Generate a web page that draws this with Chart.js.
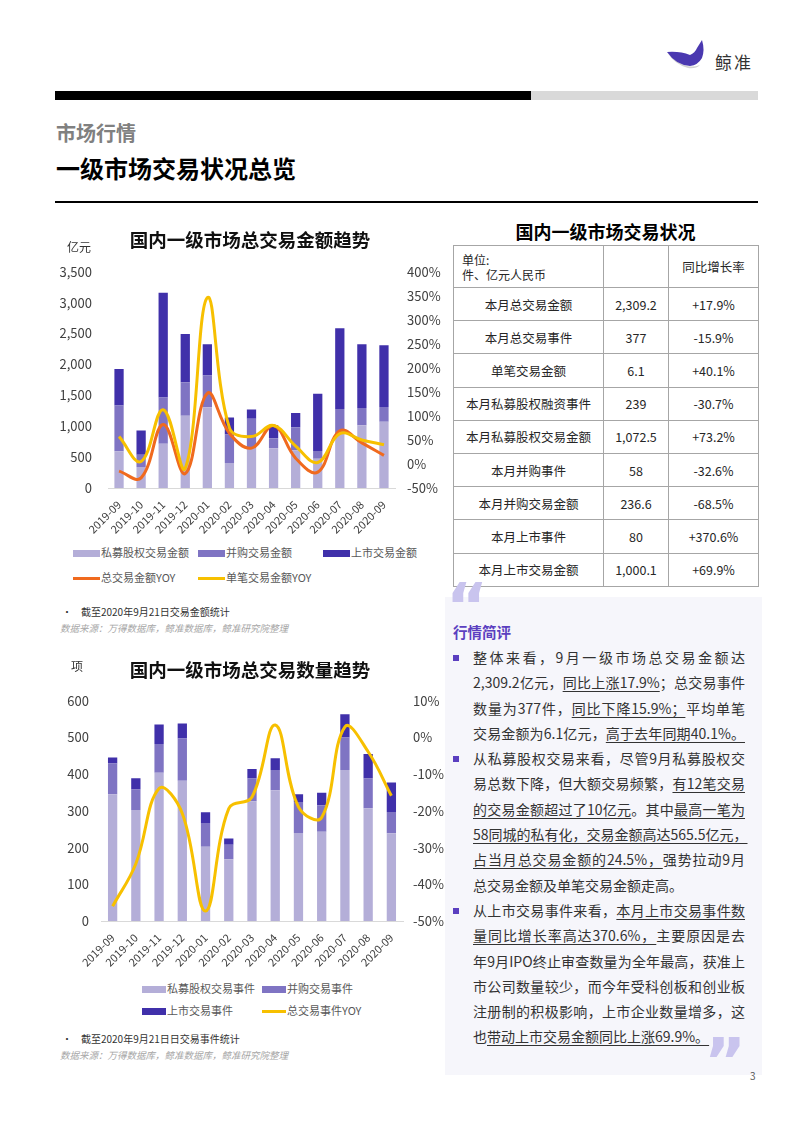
<!DOCTYPE html>
<html>
<head>
<meta charset="utf-8">
<script src="https://cdn.jsdelivr.net/npm/chart.js@4.4.0/dist/chart.umd.min.js"></script>
<style>
  body { margin:0; width:800px; height:1130px; position:relative; background:#fff; overflow:hidden;
         font-family:"Noto Sans CJK SC","Noto Sans",sans-serif; color:#333; }
  .abs { position:absolute; }
  .legend-item { position:absolute; font-size:11px; color:#595959; line-height:14px; white-space:nowrap; }
  .legend-item i { display:inline-block; vertical-align:middle; margin-right:1px; margin-top:-2px; }
  #tbl { position:absolute; left:453px; top:245px; width:305px; border-collapse:collapse; font-size:12.5px; color:#262626; table-layout:fixed; }
  #tbl td { border:1px solid #a6a6a6; text-align:center; padding:0; }
  #tbl tr { height:33.2px; }
  #comment { position:absolute; left:473px; top:645px; width:272px; font-size:14px; line-height:25.3px; color:#333; }
  #comment div { white-space:nowrap; text-align:justify; text-align-last:justify; }
  #comment div.last { text-align-last:left; }
  #comment u { text-decoration-thickness:1px; text-underline-offset:3px; }
  .sq { position:absolute; left:453px; width:6px; height:6px; background:#5b3fc0; }
  .note { position:absolute; font-size:10px; color:#333; white-space:nowrap; }
  .src { position:absolute; font-size:9.5px; color:#a6a6a6; font-style:italic; white-space:nowrap; }
</style>
</head>
<body>

<!-- header -->
<svg class="abs" style="left:662px;top:38px" width="46" height="34" viewBox="0 0 46 34">
  <path d="M5 14 Q12 26 26 30 Q34 31 38 27 Q30 30 22 27 Q12 23 5 14 Z" fill="#d2d2d2"/>
  <path d="M5 14 Q18 13 28 17 Q33 15 35 10 L40 2 Q43 12 40 20 Q36 27 28 28 Q14 27 5 14 Z" fill="#4a38b0"/>
</svg>
<div class="abs" style="left:715px;top:49px;font-size:17px;letter-spacing:2px;color:#333">鲸准</div>
<div class="abs" style="left:55px;top:91px;width:476px;height:9px;background:#000"></div>
<div class="abs" style="left:531px;top:91px;width:227px;height:9px;background:#d9d9d9"></div>
<div class="abs" style="left:56px;top:121px;font-size:20px;line-height:24px;font-weight:bold;color:#808080">市场行情</div>
<div class="abs" style="left:56px;top:154px;font-size:24px;line-height:28px;font-weight:bold;color:#000">一级市场交易状况总览</div>
<div class="abs" style="left:55px;top:201px;width:703px;height:2px;background:#000"></div>

<!-- chart 1 -->
<div class="abs" style="left:55px;top:222px;width:390px;height:318px"><canvas id="amountChart"></canvas></div>
<div class="abs" style="left:67px;top:238px;font-size:12px;color:#333">亿元</div>
<div id="legend1"></div>
<div class="note" style="left:62px;top:604px">•&nbsp;&nbsp;&nbsp;&nbsp;截至2020年9月21日交易金额统计</div>
<div class="src" style="left:60px;top:621px">数据来源：万得数据库，鲸准数据库，鲸准研究院整理</div>

<!-- chart 2 -->
<div class="abs" style="left:55px;top:650px;width:390px;height:322px"><canvas id="countChart"></canvas></div>
<div class="abs" style="left:71px;top:657px;font-size:12px;color:#333">项</div>
<div id="legend2"></div>
<div class="note" style="left:62px;top:1031px">•&nbsp;&nbsp;&nbsp;&nbsp;截至2020年9月21日日交易事件统计</div>
<div class="src" style="left:60px;top:1048px">数据来源：万得数据库，鲸准数据库，鲸准研究院整理</div>

<!-- table -->
<div class="abs" style="left:453px;top:219px;width:305px;text-align:center;font-size:18px;line-height:24px;font-weight:bold;color:#000">国内一级市场交易状况</div>
<table id="tbl">
  <colgroup><col style="width:150px"><col style="width:65px"><col style="width:90px"></colgroup>
  <tbody id="tblBody"></tbody>
</table>

<!-- comment box -->
<div class="abs" style="left:445px;top:597px;width:317px;height:478px;background:#f6f6fb"></div>
<div class="abs" style="left:446px;top:572px;font-size:64px;line-height:70px;font-weight:bold;color:#c9c4ee;font-family:'DejaVu Sans'">“</div>
<div class="abs" style="left:704px;top:1027px;font-size:64px;line-height:70px;font-weight:bold;color:#c9c4ee;font-family:'DejaVu Sans'">”</div>
<div class="abs" style="left:453px;top:623px;font-size:14.5px;line-height:18px;font-weight:bold;color:#5b3fc0">行情简评</div>
<div class="sq" style="top:655px"></div>
<div class="sq" style="top:756px"></div>
<div class="sq" style="top:908px"></div>
<div id="comment">
  <div>整体来看，9月一级市场总交易金额达</div>
  <div>2,309.2亿元，<u>同比上涨17.9%</u>；总交易事件</div>
  <div>数量为377件，<u>同比下降15.9%；</u>平均单笔</div>
  <div>交易金额为6.1亿元，<u>高于去年同期40.1%。</u></div>
  <div>从私募股权交易来看，尽管9月私募股权交</div>
  <div>易总数下降，但大额交易频繁，<u>有12笔交易</u></div>
  <div><u>的交易金额超过了10亿元</u>。其中<u>最高一笔为</u></div>
  <div class="last"><u>58同城的私有化，交易金额高达565.5亿元，</u></div>
  <div><u>占当月总交易金额的24.5%，</u>强势拉动9月</div>
  <div class="last">总交易金额及单笔交易金额走高。</div>
  <div>从上市交易事件来看，<u>本月上市交易事件数</u></div>
  <div><u>量同比增长率高达370.6%，</u>主要原因是去</div>
  <div>年9月IPO终止审查数量为全年最高，获准上</div>
  <div>市公司数量较少，而今年受科创板和创业板</div>
  <div>注册制的积极影响，上市企业数量增多，这</div>
  <div class="last">也<u>带动上市交易金额同比上涨69.9%。</u></div>
</div>
<div class="abs" style="left:750px;top:1068px;font-size:10px;color:#595959">3</div>

<script>
const months = ["2019-09","2019-10","2019-11","2019-12","2020-01","2020-02","2020-03",
                "2020-04","2020-05","2020-06","2020-07","2020-08","2020-09"];

// 亿元
const peAmount  = [595, 340, 715, 1170, 1305, 405, 660, 645, 610, 475, 880, 1015, 1072.5];
const maAmount  = [740, 200, 750, 540, 515, 460, 460, 160, 375, 125, 400, 280, 236.6];
const ipoAmount = [590, 390, 1695, 780, 505, 275, 150, 210, 230, 925, 1305, 1030, 1000.1];
// %
const totalAmountYoy = [-15, -29, 82, -20, 147, 64, 33, 80, 12, -17, 69, 44, 17.9];
const avgAmountYoy   = [57, 5, 113, -9, 346, 75, 57, 80, 37, 3, 63, 50, 40.1];

// 项
const peCount  = [345, 302, 404, 382, 202, 168, 326, 356, 240, 243, 411, 307, 239];
const maCount  = [84, 56, 78, 115, 65, 40, 62, 55, 84, 72, 89, 81, 58];
const ipoCount = [16, 31, 53, 41, 29, 17, 26, 32, 21, 34, 63, 67, 80];
const totalCountYoy = [-46, -34.4, -13.9, -20.7, -47.3, -19.4, -16.2, 3.4, -18.9, -21.8, 2.9, -3.9, -15.9];

const tableLabels = ["本月总交易金额","本月总交易事件","单笔交易金额","本月私募股权融资事件","本月私募股权交易金额",
                     "本月并购事件","本月并购交易金额","本月上市事件","本月上市交易金额"];
const tableValues = ["2,309.2","377","6.1","239","1,072.5","58","236.6","80","1,000.1"];
const tableGrowth = ["+17.9%","-15.9%","+40.1%","-30.7%","+73.2%","-32.6%","-68.5%","+370.6%","+69.9%"];

const cPE = "#b4aed8", cMA = "#7f74c3", cIPO = "#4030aa", cOrange = "#f06a1e", cYellow = "#f7c000";

Chart.defaults.font.family = '"Noto Sans CJK SC","Noto Sans",sans-serif';
Chart.defaults.color = "#404040";

// fixed axis sizes so the plot area sits where the reference has it
function axes(leftMax, leftStep, rMin, rMax, rStep, leftW, leftPad, rightW, rightPad, xH) {
    return {
        x: { stacked: true, grid: { display: false }, border: { color: "#d9d9d9" },
             ticks: { autoSkip: false, maxRotation: 45, minRotation: 45, font: { size: 11 }, color: "#404040", padding: 2 },
             afterFit: s => { s.paddingLeft = 0; s.paddingRight = 0; s.height = xH; } },
        y: { stacked: true, min: 0, max: leftMax, grid: { display: false, tickLength: 0 }, border: { display: false },
             ticks: { stepSize: leftStep, padding: leftPad, font: { size: 13 }, color: "#404040",
                      callback: v => v.toLocaleString("en-US") },
             afterFit: s => { s.width = leftW; } },
        y2: { position: "right", min: rMin, max: rMax, grid: { display: false, tickLength: 0 }, border: { display: false },
              ticks: { stepSize: rStep, padding: rightPad, font: { size: 13 }, color: "#404040",
                       callback: v => v + "%" },
              afterFit: s => { s.width = rightW; } }
    };
}

function barSet(label, data, color, pct) {
    return { type: "bar", label: label, data: data, backgroundColor: color, yAxisID: "y",
             order: 3, barPercentage: pct, categoryPercentage: 1 };
}
function lineSet(label, data, color, order) {
    return { type: "line", label: label, data: data, borderColor: color, backgroundColor: color,
             borderWidth: 3, pointRadius: 0, tension: 0.4, yAxisID: "y2", order: order };
}

const amountChart = new Chart(document.getElementById("amountChart"), {
    data: {
        labels: months,
        datasets: [
            barSet("私募股权交易金额", peAmount, cPE, 0.42),
            barSet("并购交易金额", maAmount, cMA, 0.42),
            barSet("上市交易金额", ipoAmount, cIPO, 0.42),
            lineSet("总交易金额YOY", totalAmountYoy, cOrange, 2),
            lineSet("单笔交易金额YOY", avgAmountYoy, cYellow, 1)
        ]
    },
    options: {
        responsive: true, maintainAspectRatio: false, animation: false,
        layout: { padding: 0 },
        plugins: {
            legend: { display: false },
            tooltip: { enabled: false },
            title: { display: true, text: "国内一级市场总交易金额趋势", color: "#111",
                     font: { size: 18.5, weight: "bold" }, padding: { top: 7, bottom: 20.5 } }
        },
        scales: axes(3500, 500, -50, 400, 50, 53, 16, 50, 12, 52)
    }
});

const countChart = new Chart(document.getElementById("countChart"), {
    data: {
        labels: months,
        datasets: [
            barSet("私募股权交易事件", peCount, cPE, 0.4),
            barSet("并购交易事件", maCount, cMA, 0.4),
            barSet("上市交易事件", ipoCount, cIPO, 0.4),
            lineSet("总交易事件YOY", totalCountYoy, cYellow, 1)
        ]
    },
    options: {
        responsive: true, maintainAspectRatio: false, animation: false,
        layout: { padding: 0 },
        plugins: {
            legend: { display: false },
            tooltip: { enabled: false },
            title: { display: true, text: "国内一级市场总交易数量趋势", color: "#111",
                     font: { size: 18.5, weight: "bold" }, padding: { top: 9, bottom: 19.5 } }
        },
        scales: axes(600, 100, -50, 10, 10, 46, 12, 42, 10, 51)
    }
});

// grid legends built from the chart datasets
function buildLegend(chart, holder, left, top, colW, rowH, perRow, swW) {
    const el = document.getElementById(holder);
    chart.data.datasets.forEach((ds, i) => {
        const item = document.createElement("div");
        item.className = "legend-item";
        item.style.left = (left + (i % perRow) * colW) + "px";
        item.style.top = (top + Math.floor(i / perRow) * rowH) + "px";
        const h = ds.type === "line" ? 3 : 7;
        item.innerHTML = '<i style="width:' + swW + 'px;height:' + h + 'px;background:' +
                         ds.backgroundColor + '"></i>' + ds.label;
        el.appendChild(item);
    });
}
buildLegend(amountChart, "legend1", 73, 545, 125, 25, 3, 27);
buildLegend(countChart, "legend2", 142, 981, 120, 22, 2, 24);

// table
const body = document.getElementById("tblBody");
const head = document.createElement("tr");
head.style.height = "42px";
head.innerHTML = '<td style="text-align:left;padding-left:8px;font-size:12px;line-height:15px">单位:<br>件、亿元人民币</td><td></td><td>同比增长率</td>';
body.appendChild(head);
tableLabels.forEach((label, i) => {
    const tr = document.createElement("tr");
    tr.innerHTML = "<td>" + label + "</td><td>" + tableValues[i] + "</td><td>" + tableGrowth[i] + "</td>";
    body.appendChild(tr);
});
</script>
</body>
</html>
